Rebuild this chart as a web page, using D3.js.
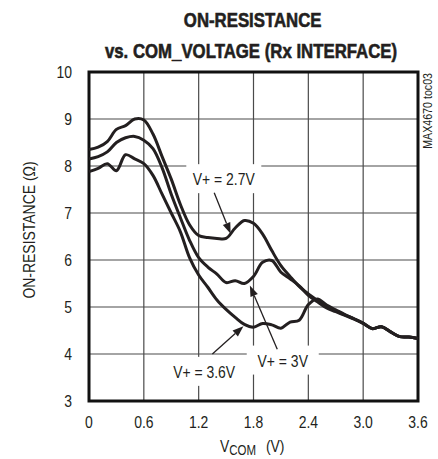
<!DOCTYPE html>
<html lang="en">
<head>
  <meta charset="UTF-8">
  <title>On-Resistance vs. COM Voltage (Rx Interface)</title>
  <script src="https://d3js.org/d3.v7.min.js"></script>
  <style>
    body { margin: 0; background: #fff; }
    text {
      font-family: "Liberation Sans Narrow", "Arial Narrow", "Liberation Sans", sans-serif;
      fill: #231f20;
    }
    .grid line { stroke: #4a4a4a; stroke-width: 1.2px; }
    .frame { fill: none; stroke: #111; stroke-width: 3px; }
    .curve { fill: none; stroke: #231f20; stroke-width: 3px; stroke-linejoin: round; }
    .arrow { stroke: #231f20; stroke-width: 1.3px; }
  </style>
</head>
<body>
  <svg width="438" height="459"></svg>
  <script>
    // V_COM sample points (V)
    const vcom = [0, 0.1, 0.2, 0.3, 0.4, 0.5, 0.6, 0.7, 0.8, 0.9, 1.0, 1.1, 1.2,
                  1.3, 1.4, 1.5, 1.6, 1.7, 1.8, 1.9, 2.0, 2.1, 2.2, 2.3, 2.4,
                  2.5, 2.6, 2.7, 2.8, 2.9, 3.0, 3.1, 3.2, 3.3, 3.4, 3.5, 3.6];

    // on-resistance (ohm)
    const r27 = [8.35, 8.40, 8.52, 8.78, 8.86, 9.00, 8.98, 8.68, 8.20, 7.72, 7.18, 6.75, 6.52,
                 6.48, 6.46, 6.46, 6.68, 6.84, 6.78, 6.55, 6.20, 5.88, 5.65, 5.44, 5.28,
                 5.14, 5.01, 4.92, 4.83, 4.75, 4.66, 4.54, 4.58, 4.47, 4.37, 4.36, 4.33];
    const r30 = [8.15, 8.20, 8.30, 8.50, 8.60, 8.63, 8.55, 8.37, 7.96, 7.40, 6.90, 6.42, 6.05,
                 5.85, 5.70, 5.52, 5.56, 5.50, 5.65, 5.95, 5.99, 5.74, 5.60, 5.45, 5.25,
                 5.11, 4.98, 4.90, 4.82, 4.74, 4.65, 4.54, 4.58, 4.47, 4.37, 4.36, 4.33];
    const r36 = [7.88, 7.95, 8.05, 7.90, 8.24, 8.15, 8.05, 7.80, 7.40, 7.00, 6.60, 6.05, 5.68,
                 5.42, 5.15, 4.95, 4.78, 4.63, 4.57, 4.65, 4.62, 4.55, 4.68, 4.72, 5.05,
                 5.17, 5.04, 4.94, 4.84, 4.75, 4.65, 4.54, 4.58, 4.47, 4.37, 4.36, 4.33];

    const xTicks = [0, 0.6, 1.2, 1.8, 2.4, 3.0, 3.6];
    const xTickLabels = ["0", "0.6", "1.2", "1.8", "2.4", "3.0", "3.6"];
    const yTicks = [3, 4, 5, 6, 7, 8, 9, 10];

    // annotations: label position, arrow tail, arrow tip (data units)
    const labels = [
      { text: "V+ = 2.7V", x: 1.475, y: 7.72, w: 75, tail: [1.37, 7.43], tip: [1.55, 6.56] },
      { text: "V+ = 3V",   x: 2.12,  y: 3.86, w: 72, tail: [2.06, 4.10], tip: [1.76, 5.46] },
      { text: "V+ = 3.6V", x: 1.26,  y: 3.62, w: 72, tail: [1.35, 4.00], tip: [1.69, 4.59] }
    ];

    const svg = d3.select("svg");
    const pLeft = 89, pRight = 418, pTop = 72, pBottom = 401;

    // no narrow font installed: squeeze the regular one
    function narrow(sel, k) {
      sel.each(function () {
        const len = this.getComputedTextLength();
        d3.select(this).attr("textLength", len * (k || 0.82)).attr("lengthAdjust", "spacingAndGlyphs");
      });
    }

    const x = d3.scaleLinear().domain([0, 3.6]).range([pLeft, pRight]);
    const y = d3.scaleLinear().domain([3, 10]).range([pBottom, pTop]);

    // grid
    const grid = svg.append("g").attr("class", "grid");
    grid.selectAll(".vx").data(xTicks.slice(1, -1)).enter().append("line")
      .attr("x1", d => x(d)).attr("x2", d => x(d))
      .attr("y1", pTop).attr("y2", pBottom);
    grid.selectAll(".hy").data(yTicks.slice(1, -1)).enter().append("line")
      .attr("x1", pLeft).attr("x2", pRight)
      .attr("y1", d => y(d)).attr("y2", d => y(d));

    // white boxes behind the labels (they break the grid)
    svg.append("g").selectAll("rect").data(labels).enter().append("rect")
      .attr("x", d => x(d.x) - d.w / 2)
      .attr("y", d => y(d.y) - 15)
      .attr("width", d => d.w)
      .attr("height", 29)
      .attr("fill", "#fff");

    svg.append("rect").attr("class", "frame")
      .attr("x", pLeft).attr("y", pTop)
      .attr("width", pRight - pLeft).attr("height", pBottom - pTop);

    // curves
    const line = d3.line()
      .x((d, i) => x(vcom[i]))
      .y(d => y(d))
      .curve(d3.curveCatmullRom.alpha(0.5));

    svg.append("g").selectAll("path").data([r27, r30, r36]).enter().append("path")
      .attr("class", "curve")
      .attr("d", line);

    // arrows
    const ann = svg.append("g");
    labels.forEach(l => {
      const x0 = x(l.tail[0]), y0 = y(l.tail[1]);
      const x1 = x(l.tip[0]), y1 = y(l.tip[1]);
      const a = Math.atan2(y1 - y0, x1 - x0);
      const len = 11, hw = 4;
      const bx = x1 - len * Math.cos(a), by = y1 - len * Math.sin(a);
      ann.append("line").attr("class", "arrow")
        .attr("x1", x0).attr("y1", y0).attr("x2", bx).attr("y2", by);
      ann.append("path")
        .attr("d", `M${x1},${y1}L${bx + hw * Math.sin(a)},${by - hw * Math.cos(a)}L${bx - hw * Math.sin(a)},${by + hw * Math.cos(a)}Z`)
        .attr("fill", "#231f20");
      ann.append("text")
        .attr("class", "lbl")
        .attr("x", x(l.x)).attr("y", y(l.y))
        .attr("dy", "0.36em")
        .attr("text-anchor", "middle")
        .style("font-size", "17px")
        .text(l.text);
    });
    narrow(ann.selectAll(".lbl"));

    // tick labels
    const xt = svg.append("g").selectAll("text").data(xTicks).enter().append("text")
      .attr("x", d => x(d)).attr("y", 428)
      .attr("text-anchor", "middle")
      .style("font-size", "17px")
      .text((d, i) => xTickLabels[i]);
    narrow(xt);

    const yt = svg.append("g").selectAll("text").data(yTicks).enter().append("text")
      .attr("x", 72).attr("y", d => y(d))
      .attr("dy", "0.36em")
      .attr("text-anchor", "end")
      .style("font-size", "17px")
      .text(d => d);
    narrow(yt);

    // title (heavy, condensed)
    const title = svg.append("g").attr("transform", "translate(251,0) scale(0.84,1)")
      .append("text").attr("text-anchor", "middle")
      .style("font-size", "20px").style("font-weight", "bold")
      .style("stroke", "#231f20").style("stroke-width", "0.6px");
    title.append("tspan").attr("x", 2).attr("y", 27).text("ON-RESISTANCE");
    title.append("tspan").attr("x", 0).attr("y", 58).text("vs. COM_VOLTAGE (Rx INTERFACE)");

    // axis titles
    const xl = svg.append("g").attr("transform", "translate(220,452) scale(0.82,1)")
      .append("text").style("font-size", "17px");
    xl.append("tspan").text("V");
    xl.append("tspan").attr("dy", 3).style("font-size", "14px").text("COM");
    xl.append("tspan").attr("dy", -3).attr("dx", 12).text("(V)");

    const yl = svg.append("text")
      .attr("transform", "translate(35,230) rotate(-90)")
      .attr("text-anchor", "middle")
      .style("font-size", "17px")
      .text("ON-RESISTANCE (\u03A9)");
    narrow(yl);

    const note = svg.append("text")
      .attr("transform", "translate(432,73) rotate(-90)")
      .attr("text-anchor", "end")
      .style("font-size", "13px")
      .text("MAX4670 toc03");
    narrow(note);
  </script>
</body>
</html>
